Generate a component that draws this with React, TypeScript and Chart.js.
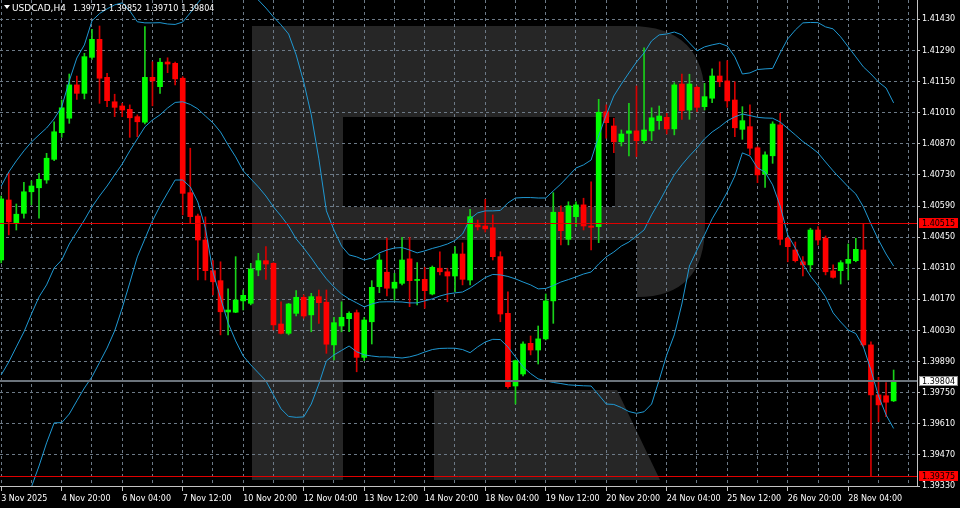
import React, { useEffect, useRef } from "react";
import { Chart, registerables } from "chart.js";

Chart.register(...registerables);

const FONT = '"DejaVu Sans", "Liberation Sans", sans-serif';

const opens = [
  1.40347, 1.40617, 1.40515, 1.40557, 1.40654, 1.40672, 1.40707, 1.40800, 1.40920, 1.40985,
  1.41135, 1.41097, 1.41259, 1.41340, 1.41169, 1.41059, 1.41040, 1.41025, 1.40992, 1.40967,
  1.41169, 1.41127, 1.41238, 1.41232, 1.41165, 1.40650, 1.40545, 1.40437, 1.40299, 1.40254,
  1.40113, 1.40112, 1.40163, 1.40152, 1.40302, 1.40344, 1.40332, 1.40059, 1.40017, 1.40107,
  1.40179, 1.40100, 1.40182, 1.40157, 1.39965, 1.40050, 1.40083, 1.40110, 1.39909, 1.40069,
  1.40227, 1.40292, 1.40220, 1.40242, 1.40352, 1.40255, 1.40260, 1.40194, 1.40310, 1.40294,
  1.40275, 1.40374, 1.40257, 1.40505, 1.40500, 1.40492, 1.40362, 1.40107, 1.39780, 1.39834,
  1.39972, 1.39942, 1.39992, 1.40163, 1.40562, 1.40440, 1.40542, 1.40595, 1.40500, 1.40497,
  1.41014, 1.40950, 1.40879, 1.40917, 1.40928, 1.40884, 1.40928, 1.40974, 1.40989, 1.40937,
  1.41139, 1.41022, 1.41124, 1.41037, 1.41075, 1.41175, 1.41153, 1.41067, 1.40935, 1.40947,
  1.40852, 1.40734, 1.40816, 1.40955, 1.40445, 1.40392, 1.40339, 1.40325, 1.40482, 1.40445,
  1.40298, 1.40299, 1.40332, 1.40344, 1.40392, 1.39965, 1.39740, 1.39736, 1.39713,
];

const highs = [
  1.40635, 1.40740, 1.40599, 1.40697, 1.40703, 1.40737, 1.40827, 1.40969, 1.41067, 1.41184,
  1.41175, 1.41277, 1.41385, 1.41400, 1.41187, 1.41093, 1.41052, 1.41045, 1.41000, 1.41397,
  1.41239, 1.41255, 1.41257, 1.41238, 1.41172, 1.40850, 1.40554, 1.40541, 1.40344, 1.40339,
  1.40217, 1.40362, 1.40212, 1.40332, 1.40377, 1.40407, 1.40335, 1.40159, 1.40152, 1.40209,
  1.40190, 1.40197, 1.40212, 1.40212, 1.40089, 1.40159, 1.40114, 1.40122, 1.40089, 1.40254,
  1.40374, 1.40446, 1.40287, 1.40449, 1.40449, 1.40335, 1.40314, 1.40320, 1.40384, 1.40310,
  1.40407, 1.40424, 1.40575, 1.40527, 1.40620, 1.40550, 1.40384, 1.40204, 1.39897, 1.39979,
  1.40005, 1.40050, 1.40194, 1.40650, 1.40591, 1.40609, 1.40609, 1.40625, 1.40699, 1.41070,
  1.41045, 1.40985, 1.40932, 1.41052, 1.41130, 1.41302, 1.41032, 1.41040, 1.41007, 1.41145,
  1.41184, 1.41183, 1.41130, 1.41142, 1.41207, 1.41239, 1.41244, 1.41149, 1.41037, 1.41045,
  1.40857, 1.40834, 1.40969, 1.41007, 1.40449, 1.40428, 1.40362, 1.40490, 1.40497, 1.40455,
  1.40325, 1.40344, 1.40419, 1.40445, 1.40509, 1.39979, 1.39819, 1.39795, 1.39852,
];

const lows = [
  1.40334, 1.40460, 1.40482, 1.40535, 1.40595, 1.40535, 1.40692, 1.40794, 1.40899, 1.40962,
  1.41070, 1.41072, 1.41250, 1.41052, 1.41037, 1.40992, 1.40992, 1.40899, 1.40902, 1.40959,
  1.41041, 1.41097, 1.41190, 1.41135, 1.40550, 1.40515, 1.40257, 1.40257, 1.40190, 1.40010,
  1.40010, 1.40110, 1.40122, 1.40145, 1.40276, 1.40260, 1.40032, 1.40014, 1.40010, 1.40095,
  1.40085, 1.40024, 1.40062, 1.39927, 1.39897, 1.40024, 1.40024, 1.39844, 1.39894, 1.39969,
  1.40200, 1.40185, 1.40167, 1.40235, 1.40137, 1.40145, 1.40130, 1.40190, 1.40280, 1.40159,
  1.40204, 1.40235, 1.40235, 1.40482, 1.40473, 1.40347, 1.40069, 1.39770, 1.39699, 1.39825,
  1.39920, 1.39879, 1.39987, 1.40062, 1.40415, 1.40415, 1.40497, 1.40482, 1.40392, 1.40425,
  1.40895, 1.40830, 1.40860, 1.40815, 1.40812, 1.40872, 1.40884, 1.40935, 1.40914, 1.40910,
  1.40980, 1.40980, 1.41014, 1.41022, 1.41055, 1.41127, 1.41034, 1.40902, 1.40890, 1.40820,
  1.40695, 1.40674, 1.40782, 1.40415, 1.40339, 1.40338, 1.40275, 1.40294, 1.40415, 1.40280,
  1.40265, 1.40239, 1.40257, 1.40339, 1.39956, 1.39375, 1.39619, 1.39642, 1.39710,
];

const closes = [
  1.40622, 1.40519, 1.40553, 1.40654, 1.40680, 1.40710, 1.40805, 1.40924, 1.41032, 1.41135,
  1.41097, 1.41262, 1.41340, 1.41165, 1.41064, 1.41034, 1.41022, 1.40987, 1.40969, 1.41169,
  1.41153, 1.41237, 1.41229, 1.41162, 1.40647, 1.40542, 1.40437, 1.40299, 1.40249, 1.40114,
  1.40122, 1.40167, 1.40188, 1.40307, 1.40344, 1.40329, 1.40055, 1.40017, 1.40149, 1.40179,
  1.40095, 1.40182, 1.40155, 1.39968, 1.40065, 1.40089, 1.40107, 1.39909, 1.40077, 1.40224,
  1.40347, 1.40220, 1.40247, 1.40347, 1.40254, 1.40259, 1.40209, 1.40314, 1.40294, 1.40275,
  1.40374, 1.40260, 1.40542, 1.40496, 1.40487, 1.40362, 1.40104, 1.39777, 1.39894, 1.39969,
  1.39942, 1.39992, 1.40163, 1.40562, 1.40479, 1.40591, 1.40595, 1.40500, 1.40494, 1.41012,
  1.40965, 1.40879, 1.40914, 1.40928, 1.40884, 1.40932, 1.40987, 1.40995, 1.40937, 1.41135,
  1.41019, 1.41139, 1.41034, 1.41082, 1.41175, 1.41149, 1.41063, 1.40942, 1.40974, 1.40850,
  1.40730, 1.40820, 1.40959, 1.40440, 1.40407, 1.40344, 1.40325, 1.40482, 1.40437, 1.40294,
  1.40269, 1.40335, 1.40350, 1.40395, 1.39965, 1.39740, 1.39695, 1.39707, 1.39804,
];

const bbUpper = [
  1.40680, 1.40743, 1.40793, 1.40838, 1.40878, 1.40910, 1.40941, 1.40982, 1.41036, 1.41153,
  1.41256, 1.41315, 1.41423, 1.41456, 1.41477, 1.41495, 1.41504, 1.41468, 1.41419, 1.41414,
  1.41414, 1.41415, 1.41409, 1.41407, 1.41418, 1.41459, 1.41504, 1.41544, 1.41616, 1.41661,
  1.41666, 1.41639, 1.41585, 1.41549, 1.41517, 1.41481, 1.41441, 1.41405, 1.41364, 1.41270,
  1.41148, 1.41000, 1.40802, 1.40568, 1.40482, 1.40410, 1.40370, 1.40361, 1.40347, 1.40356,
  1.40379, 1.40392, 1.40401, 1.40403, 1.40392, 1.40379, 1.40388, 1.40399, 1.40408, 1.40419,
  1.40435, 1.40464, 1.40532, 1.40559, 1.40568, 1.40568, 1.40570, 1.40604, 1.40626, 1.40628,
  1.40628, 1.40626, 1.40626, 1.40658, 1.40689, 1.40725, 1.40761, 1.40775, 1.40797, 1.40905,
  1.41000, 1.41085, 1.41139, 1.41189, 1.41238, 1.41279, 1.41333, 1.41360, 1.41364, 1.41373,
  1.41360, 1.41324, 1.41288, 1.41306, 1.41315, 1.41322, 1.41310, 1.41261, 1.41184, 1.41189,
  1.41204, 1.41207, 1.41209, 1.41279, 1.41342, 1.41382, 1.41414, 1.41416, 1.41415, 1.41396,
  1.41387, 1.41351, 1.41306, 1.41261, 1.41216, 1.41184, 1.41148, 1.41121, 1.41054,
];

const bbMiddle = [
  1.39830, 1.39888, 1.39956, 1.40023, 1.40104, 1.40181, 1.40235, 1.40311, 1.40347, 1.40419,
  1.40473, 1.40527, 1.40586, 1.40635, 1.40680, 1.40730, 1.40779, 1.40838, 1.40892, 1.40946,
  1.40977, 1.41000, 1.41031, 1.41056, 1.41059, 1.41047, 1.41027, 1.40995, 1.40964, 1.40923,
  1.40865, 1.40811, 1.40748, 1.40712, 1.40676, 1.40635, 1.40586, 1.40545, 1.40500, 1.40442,
  1.40401, 1.40356, 1.40307, 1.40262, 1.40226, 1.40194, 1.40172, 1.40154, 1.40136, 1.40149,
  1.40158, 1.40159, 1.40159, 1.40158, 1.40154, 1.40154, 1.40163, 1.40172, 1.40185, 1.40194,
  1.40199, 1.40203, 1.40221, 1.40244, 1.40268, 1.40282, 1.40280, 1.40273, 1.40262, 1.40248,
  1.40235, 1.40217, 1.40219, 1.40232, 1.40248, 1.40259, 1.40271, 1.40284, 1.40293, 1.40329,
  1.40361, 1.40383, 1.40410, 1.40428, 1.40455, 1.40482, 1.40550, 1.40608, 1.40671, 1.40730,
  1.40775, 1.40815, 1.40851, 1.40892, 1.40923, 1.40946, 1.40973, 1.40991, 1.41004, 1.40997,
  1.40989, 1.40986, 1.40985, 1.40968, 1.40939, 1.40910, 1.40880, 1.40856, 1.40829, 1.40788,
  1.40748, 1.40712, 1.40676, 1.40644, 1.40586, 1.40509, 1.40437, 1.40374, 1.40320,
];

const bbLower = [
  1.38979, 1.39033, 1.39119, 1.39209, 1.39326, 1.39420, 1.39524, 1.39614, 1.39615, 1.39654,
  1.39713, 1.39771, 1.39821, 1.39886, 1.39951, 1.40028, 1.40131, 1.40244, 1.40361, 1.40442,
  1.40523, 1.40590, 1.40649, 1.40707, 1.40707, 1.40676, 1.40608, 1.40491, 1.40293, 1.40176,
  1.40064, 1.39983, 1.39915, 1.39875, 1.39839, 1.39803, 1.39740, 1.39677, 1.39643, 1.39639,
  1.39641, 1.39699, 1.39789, 1.39893, 1.39920, 1.39940, 1.39960, 1.39934, 1.39920, 1.39915,
  1.39911, 1.39911, 1.39909, 1.39906, 1.39911, 1.39920, 1.39933, 1.39944, 1.39949, 1.39950,
  1.39950, 1.39944, 1.39930, 1.39956, 1.39978, 1.39990, 1.39989, 1.39956, 1.39911, 1.39866,
  1.39836, 1.39812, 1.39803, 1.39796, 1.39791, 1.39785, 1.39783, 1.39781, 1.39780, 1.39740,
  1.39699, 1.39697, 1.39683, 1.39665, 1.39657, 1.39664, 1.39699, 1.39807, 1.39920, 1.40010,
  1.40149, 1.40320, 1.40392, 1.40460, 1.40532, 1.40590, 1.40653, 1.40725, 1.40829, 1.40815,
  1.40761, 1.40743, 1.40685, 1.40590, 1.40460, 1.40401, 1.40329, 1.40275, 1.40232, 1.40181,
  1.40109, 1.40068, 1.40032, 1.40016, 1.39956, 1.39852, 1.39735, 1.39650, 1.39589,
];

const yTickValues = [
  1.3933, 1.3947, 1.3961, 1.3975, 1.3989, 1.4003, 1.4017, 1.4031,
  1.4045, 1.4059, 1.4073, 1.4087, 1.4101, 1.4115, 1.4129, 1.4143,
];
const xTickBars = [0, 8, 16, 24, 32, 40, 48, 56, 64, 72, 80, 88, 96, 104, 112];
const xTickLabels = [
  "3 Nov 2025", "4 Nov 20:00", "6 Nov 04:00", "7 Nov 12:00", "10 Nov 20:00",
  "12 Nov 04:00", "13 Nov 12:00", "14 Nov 20:00", "18 Nov 04:00", "19 Nov 12:00",
  "20 Nov 20:00", "24 Nov 04:00", "25 Nov 12:00", "26 Nov 20:00", "28 Nov 04:00",
];
const xGridBars = [
  0, 4, 8, 12, 16, 20, 24, 28, 32, 36, 40, 44, 48, 52, 56, 60, 64, 68, 72, 76,
  80, 84, 88, 92, 96, 100, 104, 108, 112, 116, 120,
];
const redLevels = [1.40515, 1.39375];
const bidPrice = 1.39804;
const symbolText = "USDCAD,H4";
const ohlcText = ["1.39713", "1.39852", "1.39710", "1.39804"];

const X_MIN = -0.159;
const X_MAX = 121.09;
const Y_MIN = 1.3933;
const Y_MAX = 1.41517;

const GRID = "#6d7a87";
const AXIS = "#c4c4c4";
const BB = "#1f98d2";
const BULL = "#00ff00";
const BEAR = "#ff0000";
const BULL_W = "#19d019";
const BEAR_W = "#d40000";

const overlay = {
  id: "mt4overlay",
  beforeDraw(chart: any) {
    const { ctx, width, height, chartArea: a } = chart;
    ctx.save();
    ctx.fillStyle = "#000000";
    ctx.fillRect(0, 0, width, height);
    ctx.beginPath();
    ctx.rect(a.left, a.top, a.right - a.left, a.bottom - a.top);
    ctx.clip();
    ctx.fillStyle = "#262626";
    // stem
    ctx.fillRect(252, 26, 91, 454);
    // bowl (outer) with hole
    ctx.beginPath();
    ctx.moveTo(343, 26);
    ctx.lineTo(630, 26);
    ctx.quadraticCurveTo(705, 26, 705, 100);
    ctx.lineTo(705, 225);
    ctx.quadraticCurveTo(705, 297, 637, 297);
    ctx.lineTo(637, 240);
    ctx.lineTo(343, 240);
    ctx.closePath();
    ctx.moveTo(343, 117);
    ctx.lineTo(343, 207);
    ctx.lineTo(615, 207);
    ctx.lineTo(615, 117);
    ctx.closePath();
    ctx.fill("evenodd");
    // leg
    ctx.beginPath();
    ctx.moveTo(434, 390);
    ctx.lineTo(617, 390);
    ctx.lineTo(660, 480);
    ctx.lineTo(434, 480);
    ctx.closePath();
    ctx.fill();
    ctx.restore();
  },
  afterDatasetsDraw(chart: any) {
    const { ctx, chartArea: a, scales } = chart;
    const ys = scales.y;
    ctx.save();
    ctx.lineWidth = 1;
    ctx.strokeStyle = "#e00000";
    for (const lv of redLevels) {
      const py = Math.round(ys.getPixelForValue(lv)) + 0.5;
      ctx.beginPath();
      ctx.moveTo(a.left, py);
      ctx.lineTo(a.right, py);
      ctx.stroke();
    }
    ctx.strokeStyle = "#6b737b";
    ctx.lineWidth = 2;
    const by = Math.round(ys.getPixelForValue(bidPrice));
    ctx.beginPath();
    ctx.moveTo(a.left, by);
    ctx.lineTo(a.right, by);
    ctx.stroke();

    // title
    ctx.fillStyle = "#ffffff";
    ctx.beginPath();
    ctx.moveTo(4, 5);
    ctx.lineTo(10, 5);
    ctx.lineTo(7, 9);
    ctx.closePath();
    ctx.fill();
    ctx.textBaseline = "alphabetic";
    ctx.textAlign = "left";
    ctx.font = `9px ${FONT}`;
    ctx.fillText(symbolText, 12, 11);
    ctx.font = `8px ${FONT}`;
    let tx = 73;
    ohlcText.forEach((t) => {
      ctx.fillText(t, tx, 11);
      tx += ctx.measureText(t).width + 3;
    });
    ctx.restore();
  },
  afterDraw(chart: any) {
    const { ctx, chartArea: a, scales } = chart;
    const ys = scales.y;
    ctx.save();
    ctx.font = `8px ${FONT}`;
    ctx.textBaseline = "middle";
    ctx.textAlign = "left";
    const box = (v: number, bg: string, fg: string, border: string) => {
      const py = Math.round(ys.getPixelForValue(v));
      ctx.fillStyle = bg;
      ctx.fillRect(a.right + 2, py - 5, 39, 10);
      if (border) {
        ctx.strokeStyle = border;
        ctx.lineWidth = 1;
        ctx.strokeRect(a.right + 2.5, py - 4.5, 38, 9);
      }
      ctx.fillStyle = fg;
      ctx.fillText(v.toFixed(5), a.right + 5, py + 0.5);
    };
    box(redLevels[0], "#ff0000", "#000000", "");
    box(redLevels[1], "#ff0000", "#000000", "");
    box(bidPrice, "#ffffff", "#000000", "#8a8a8a");
    ctx.restore();
  },
};

export default function App() {
  const ref = useRef<HTMLCanvasElement>(null);
  useEffect(() => {
    document.body.style.margin = "0";
    document.body.style.background = "#000";
    const canvas = ref.current!;
    const bull = closes.map((c, i) => c >= opens[i]);
    const lineDs = (data: number[], label: string) => ({
      type: "line" as const,
      label,
      data: data.map((v, i) => ({ x: i, y: v })),
      borderColor: BB,
      borderWidth: 1,
      pointRadius: 0,
      tension: 0,
      fill: false,
      order: 0,
    });
    const chart = new Chart(canvas, {
      type: "bar",
      data: {
        datasets: [
          lineDs(bbUpper, "Upper"),
          lineDs(bbMiddle, "Middle"),
          lineDs(bbLower, "Lower"),
          {
            type: "bar",
            label: "Body",
            data: opens.map((o, i) => ({ x: i, y: [o, closes[i]] })) as any,
            backgroundColor: bull.map((b) => (b ? BULL : BEAR)),
            barThickness: 5,
            grouped: false,
            minBarLength: 1,
            order: 1,
          } as any,
          {
            type: "bar",
            label: "Wick",
            data: lows.map((l, i) => ({ x: i, y: [l, highs[i]] })) as any,
            backgroundColor: bull.map((b) => (b ? BULL_W : BEAR_W)),
            barThickness: 1,
            grouped: false,
            order: 2,
          } as any,
        ],
      },
      options: {
        responsive: false,
        maintainAspectRatio: false,
        animation: false,
        events: [],
        layout: { padding: 0 },
        plugins: { legend: { display: false }, tooltip: { enabled: false }, title: { display: false } },
        scales: {
          x: {
            type: "linear",
            position: "bottom",
            min: X_MIN,
            max: X_MAX,
            offset: false,
            bounds: "data",
            afterBuildTicks: (s: any) => {
              s.ticks = xGridBars.map((v) => ({ value: v }));
            },
            afterFit: (s: any) => {
              s.height = 22;
              s.paddingLeft = 0;
              s.paddingRight = 0;
              s.paddingTop = 0;
              s.paddingBottom = 0;
            },
            ticks: {
              autoSkip: false,
              maxRotation: 0,
              minRotation: 0,
              align: "start",
              color: "#ffffff",
              font: { family: FONT, size: 8 },
              padding: 3,
              callback: (v: any) => {
                const k = xTickBars.indexOf(Number(v));
                return k >= 0 ? xTickLabels[k] : "";
              },
            },
            grid: {
              color: GRID,
              lineWidth: 1,
              offset: false,
              drawTicks: true,
              tickLength: 5,
              tickColor: (c: any) =>
                c.tick && xTickBars.includes(c.tick.value) ? AXIS : "rgba(0,0,0,0)",
            },
            border: { display: true, color: AXIS, width: 1, dash: [3, 3] },
          } as any,
          y: {
            type: "linear",
            position: "right",
            min: Y_MIN,
            max: Y_MAX,
            beginAtZero: false,
            bounds: "data",
            afterBuildTicks: (s: any) => {
              s.ticks = yTickValues.map((v) => ({ value: v }));
            },
            afterFit: (s: any) => {
              s.width = 43;
              s.paddingLeft = 0;
              s.paddingRight = 0;
              s.paddingTop = 0;
              s.paddingBottom = 0;
            },
            ticks: {
              autoSkip: false,
              color: "#ffffff",
              font: { family: FONT, size: 8 },
              padding: 2,
              callback: (v: any) => Number(v).toFixed(5),
            },
            grid: {
              color: GRID,
              lineWidth: 1,
              drawTicks: true,
              tickLength: 3,
              tickColor: AXIS,
            },
            border: { display: true, color: AXIS, width: 1, dash: [3, 3] },
          } as any,
        },
      },
      plugins: [overlay],
    });
    return () => chart.destroy();
  }, []);
  return (
    <div style={{ width: 960, height: 508, background: "#000" }}>
      <canvas ref={ref} width={960} height={508} style={{ display: "block" }} />
    </div>
  );
}
